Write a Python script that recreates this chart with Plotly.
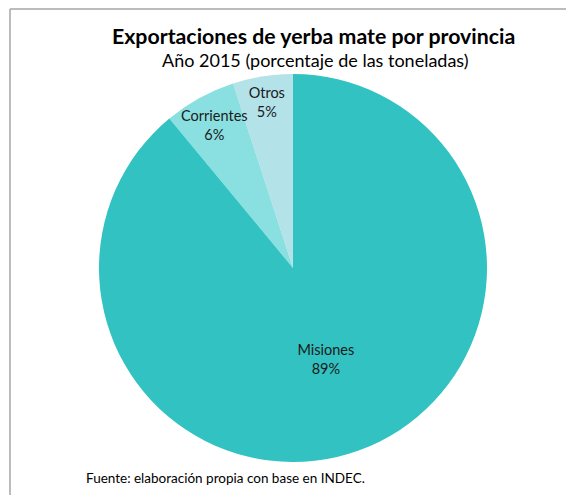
import plotly.graph_objects as go

labels = ["Otros", "Corrientes", "Misiones"]
values = [5, 6, 89]
colors = ["#B4E2E9", "#8AE0E0", "#32C2C1"]

W, H = 566, 495
cx, cy, r = 293, 268, 194


def px(x):
    return x / W


def py(y):
    return 1 - y / H


# Slices listed counterclockwise (so the Corrientes label is drawn over the Otros slice);
# the rotation makes Otros begin at 12 o'clock and extend to the left.
rot = -360 * values[0] / sum(values)

fig = go.Figure(go.Pie(
    labels=labels, values=values, sort=False, direction="counterclockwise", rotation=rot,
    marker=dict(colors=colors, line=dict(width=0)),
    textinfo="label+percent", textposition="inside", insidetextorientation="horizontal",
    texttemplate="%{label}<br>%{percent:.0%}",
    textfont=dict(family="Lato", size=14.5, color="#1a1a1a"),
    domain=dict(x=[(cx - r) / W, (cx + r) / W], y=[1 - (cy + r) / H, 1 - (cy - r) / H]),
    showlegend=False, hoverinfo="skip",
))

fig.update_layout(
    width=W, height=H, margin=dict(l=0, r=0, t=0, b=0),
    paper_bgcolor="white", plot_bgcolor="white",
    font=dict(family="Lato"),
    uniformtext=dict(mode="show", minsize=14),
    shapes=[
        dict(type="line", xref="paper", yref="paper", x0=px(10), x1=1.0, y0=py(9), y1=py(9),
             line=dict(color="#A6A6A6", width=1.5)),
        dict(type="line", xref="paper", yref="paper", x0=px(10), x1=px(10), y0=0, y1=py(9),
             line=dict(color="#A6A6A6", width=1.5)),
    ],
    annotations=[
        dict(text="<b>Exportaciones de yerba mate por provincia</b>", x=px(314), y=py(36),
             xref="paper", yref="paper", showarrow=False, yanchor="middle",
             font=dict(size=21.3, color="#000")),
        dict(text="Año 2015 (porcentaje de las toneladas)", x=px(315), y=py(60),
             xref="paper", yref="paper", showarrow=False, yanchor="middle",
             font=dict(size=18, color="#000")),
        dict(text="Fuente: elaboración propia con base en INDEC.", x=px(84), y=py(478),
             xref="paper", yref="paper", showarrow=False, xanchor="left", yanchor="middle",
             font=dict(size=13.5, color="#000")),
    ],
)

fig.write_html(
    "out.html",
    config={"displayModeBar": False},
    post_script="document.body.style.margin='0';document.body.style.overflow='hidden';",
)
